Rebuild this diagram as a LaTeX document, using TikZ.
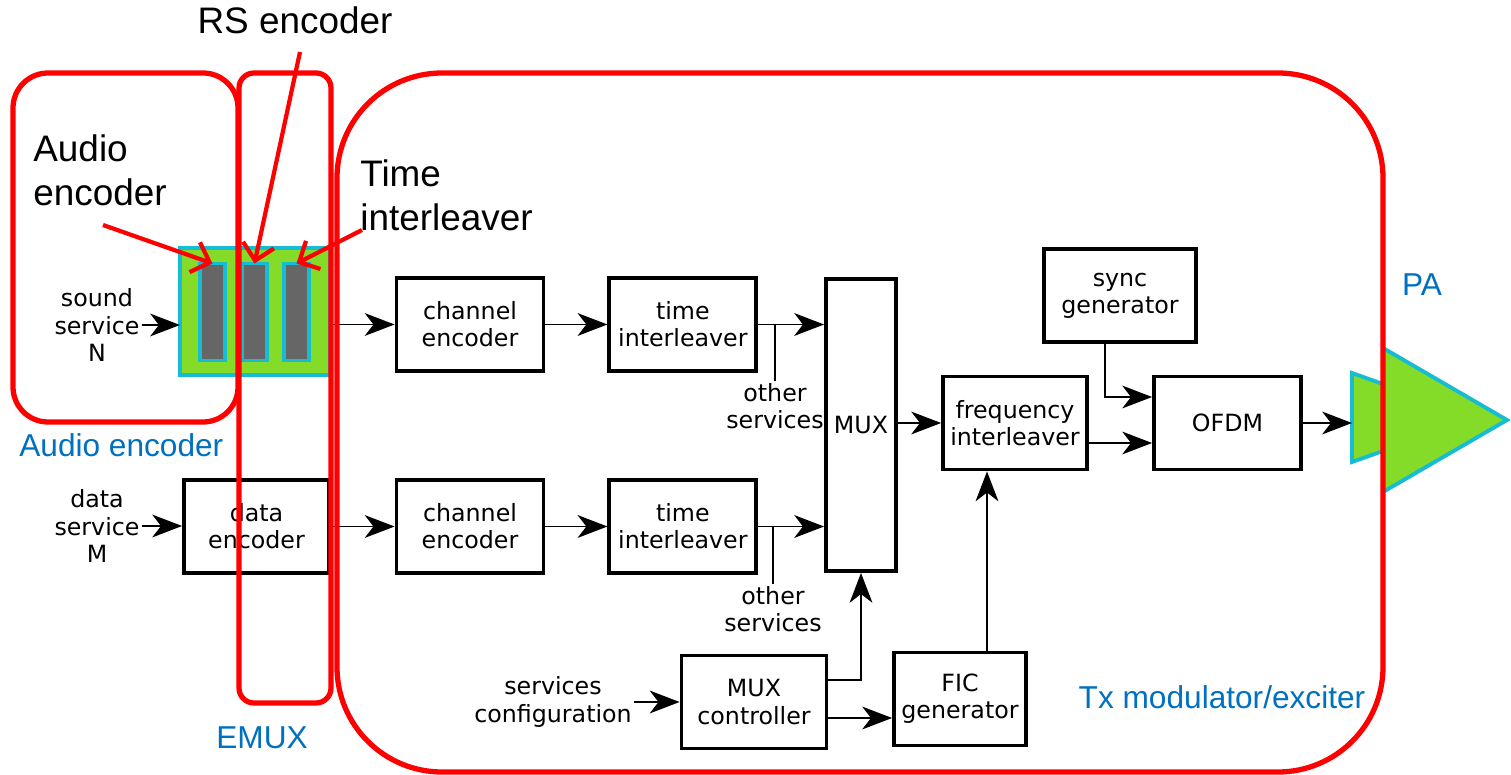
\documentclass[tikz,border=0pt]{standalone}
\usepackage{fontspec}
\setmainfont{Liberation Sans}
\newfontfamily\blkfont{DejaVu Sans}
\usetikzlibrary{arrows.meta,positioning,calc}
\definecolor{frred}{HTML}{FF0000}
\definecolor{lblue}{HTML}{0070C0}
\definecolor{pagreen}{HTML}{84DC29}
\definecolor{pacyan}{HTML}{16BCD2}
\definecolor{bargray}{HTML}{666666}

\begin{document}
\begin{tikzpicture}[x=0.2mm,y=-0.2mm,>={Stealth[length=17pt,width=13pt,inset=5pt]},node distance=12.4mm,
 blk/.style={draw,line width=2.2pt,minimum width=29.4mm,minimum height=18.6mm,align=center,inner sep=1pt,font=\blkfont\fontsize{13.5}{15.5}\selectfont},
 txt/.style={align=center,inner sep=1pt,font=\blkfont\fontsize{13.5}{15.5}\selectfont},
 conn/.style={line width=0.8pt},
 frame/.style={draw=frred,line width=3pt},
 pointer/.style={draw=frred,line width=2.4pt,-{Straight Barb[length=9pt,width=18pt]}},
 big/.style={align=left,inner sep=0pt,font=\fontsize{21}{25}\selectfont},
 lbl/.style={text=lblue,inner sep=0pt,font=\fontsize{18}{21}\selectfont},
 bar/.style={draw=pacyan,fill=bargray,line width=2.2pt,minimum width=5mm,minimum height=19.4mm,inner sep=0pt,outer sep=0pt}]
 \useasboundingbox (0,0) rectangle (1511,775);
 % audio encoder / EMUX part
 \node[draw=pacyan,fill=pagreen,line width=2.2pt,minimum width=30mm,minimum height=25.4mm,inner sep=0pt,outer sep=0pt] (aenc) at (255,311.5) {};
 \foreach \i/\x in {1/212.5,2/254.5,3/296.5} \node[bar] (b\i) at (\x,312) {};
 \node[blk,minimum width=29mm] (denc) at (256.5,526.5) {data\\encoder};
 \node[txt] (snd) at (97,325) {sound\\service\\N};
 \node[txt] (dsv) at (97,526) {data\\service\\M};
 % modulator
 \node[blk] (ce1) at (470,324.5) {channel\\encoder};
 \node[blk,right=of ce1] (ti1) {time\\interleaver};
 \node[blk] (ce2) at (470,526.5) {channel\\encoder};
 \node[blk,right=of ce2] (ti2) {time\\interleaver};
 \node[blk,minimum width=14mm,minimum height=58.4mm] (mux) at (861,425) {MUX};
 \node[blk,minimum width=29mm] (muxc) at (754,702) {MUX\\controller};
 \node[blk,minimum width=26.4mm] (fic) at (960,699) {FIC\\generator};
 \node[blk,minimum width=28.8mm] (fil) at (1015,423) {frequency\\interleaver};
 \node[blk,minimum width=30.4mm] (sync) at (1120,295.5) {sync\\generator};
 \node[blk,minimum width=29.4mm] (ofdm) at (1227.5,423) {OFDM};
 \node[txt] (os1) at (775,406) {other\\services};
 \node[txt] (os2) at (773,609) {other\\services};
 \node[txt] (scfg) at (553,702) {services\\configuration};
 \coordinate (pa) at (1352,423);
 % PA
 \filldraw[draw=pacyan,fill=pagreen,line width=2.2pt] (1383,348) -- (1507,420) -- (1383,492);
 \filldraw[draw=pacyan,fill=pagreen,line width=2.2pt] (1383,384) -- (1352,373) -- (1352,462) -- (1383,451);
 \draw[conn,->] (snd.east) -- (snd.east -| aenc.west);
 \draw[conn,->] (dsv.east) -- (dsv.east -| denc.west);
 \draw[conn,->] (aenc.east |- ce1.west) -- (ce1.west);
 \draw[conn,->] (denc) -- (ce2);
 \draw[conn,->] (ce1) -- (ti1); \draw[conn,->] (ce2) -- (ti2);
 \draw[conn,->] (ti1) -- (ti1 -| mux.west); \draw[conn] (os1.north) -- (os1.north |- ti1);
 \draw[conn,->] (ti2) -- (ti2 -| mux.west); \draw[conn] (os2.north) -- (os2.north |- ti2);
 \draw[conn,->] (scfg.east) -- (scfg.east -| muxc.west);
 \draw[conn,->] ([yshift=4.4mm]muxc.east) -| (mux.south);
 \draw[conn,->] ([yshift=-3.2mm]muxc.east) coordinate (m2) -- (m2 -| fic.west);
 \draw[conn,->] (mux.east |- fil) -- (fil);
 \draw[conn,->] ([xshift=5.4mm]fic.north) coordinate (f1) -- (f1 |- fil.south);
 \draw[conn,->] ([xshift=-3mm]sync.south) |- ([yshift=5.2mm]ofdm.west);
 \draw[conn,->] ([yshift=-4mm]fil.east) coordinate (f2) -- (f2 -| ofdm.west);
 \draw[conn,->] (ofdm) -- (pa);
 % labels and pointers
 \node[big] (lrs) at (295,20) {RS encoder};
 \node[big,anchor=west] (lae) at (33,170) {Audio\\encoder};
 \node[big,anchor=west] (lti) at (360,195) {Time\\interleaver};
 \coordinate (pae) at (103,225); \coordinate (prs) at (300,52); \coordinate (pti) at (362,230);
 \draw[pointer] (pae) -- (b1.north);
 \draw[pointer] (prs) -- (b2.north);
 \draw[pointer] (pti) -- (b3.north);
 \node[lbl,anchor=west] (bae) at (19,445) {Audio encoder};
 \node[lbl] (bemux) at (262,738) {EMUX};
 \node[lbl] (bpa) at (1422,285) {PA};
 \node[lbl] (btx) at (1222,697) {Tx modulator/exciter};
 % red frames
 \draw[frame,rounded corners=7mm] (13,73) rectangle (238,422);
 \draw[frame,rounded corners=3mm] (239,73) rectangle (331,703);
 \draw[frame,rounded corners=21mm] (337,73) rectangle (1383,772);
\end{tikzpicture}
\end{document}
